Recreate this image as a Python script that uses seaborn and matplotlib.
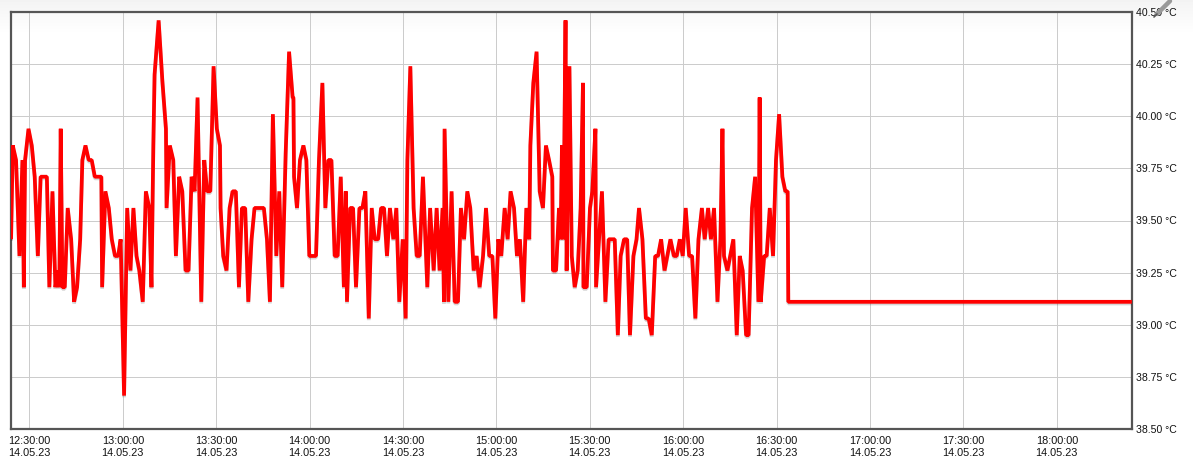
import numpy as np
import pandas as pd
import matplotlib
matplotlib.use("Agg")
import matplotlib.pyplot as plt
import matplotlib.dates as mdates
import matplotlib.patheffects as pe
import seaborn as sns

# Minutes after 12:30:00
minutes = [
    -5.9, -5.35, -4.3, -3.2, -2.25, -1.8, -1.4, -0.3, 0.75, 1.7, 2.7, 3.6, 5.6, 6.4, 7.4, 8.35,
    9.1, 9.6, 10.05, 10.6, 11.35, 12.3, 13.4, 14.35, 15.3, 16.3, 17, 18, 19.05, 20, 21, 23.1,
    23.35, 24.4, 25.5, 26.45, 27.5, 28.5, 29.3, 30.4, 31.4, 32.45, 33.4, 34.4, 35.3, 36.4, 37.4,
    38.5, 39.2, 39.8, 40.2, 41.5, 42.7, 43.85, 44.05, 45.1, 46.2, 47.05, 48.1, 49.1, 50.15, 51.1,
    52.1, 53.05, 54, 55.2, 56.15, 57.1, 58.1, 59.15, 60.2, 61.2, 61.4, 62.25, 63.3, 64.3, 65.25,
    66.3, 67.3, 68.25, 69.3, 70.3, 71.35, 72.3, 75.3, 76.3, 77.25, 78.2, 79.3, 80.25, 81.2, 82.3,
    83.4, 84.55, 84.8, 85, 85.95, 86.9, 88, 88.95, 89.9, 92.05, 93, 94.1, 95.05, 96, 97, 98.05,
    99, 100, 101, 101.6, 102, 103, 103.95, 104.9, 106, 106.95, 107.9, 109, 109.95, 110.9, 112,
    112.95, 113.9, 114.85, 115.8, 116.9, 117.85, 118.8, 119.9, 120.85, 121.4, 122.35, 123.4,
    124.4, 125.35, 126.4, 127.4, 127.8, 128.7, 129.85, 130.8, 131.75, 132.7, 133.15, 133.35,
    134.55, 135.6, 136.6, 137.65, 138.6, 139.6, 140.65, 141.6, 142.7, 143.65, 144.6, 145.7,
    146.65, 147.7, 148.7, 149.65, 150.6, 151.55, 152.65, 153.6, 154.55, 155.65, 156.6, 157.55,
    158.6, 159.6, 160.55, 160.9, 161.85, 162.9, 163.9, 164.95, 165.9, 166.9, 167.95, 168.15,
    169.15, 170.1, 170.6, 171.05, 171.5, 172.2, 172.55, 173.45, 174.2, 175.15, 176.1, 177.05,
    177.8, 177.95, 179, 180.05, 180.8, 181.8, 182, 183.9, 185, 186.05, 188, 189, 189.9, 191, 192,
    192.9, 194, 195, 195.8, 196.9, 198, 198.9, 199.9, 201, 201.9, 202.9, 204, 204.9, 205.9, 207,
    207.9, 208.9, 209.85, 210.8, 211.9, 212.85, 213.9, 214.9, 216, 216.9, 218, 218.9, 219.9, 221,
    221.95, 222.6, 223.1, 224.2, 226.1, 227.2, 228.15, 229.1, 230.2, 231, 232.1, 233.1, 234.15,
    234.55, 234.9, 236, 236.8, 237.8, 238.85, 239.8, 240.8, 241.85, 242.8, 243.55, 243.75, 354.1,
]

temps = [
    39.41, 39.86, 39.79, 39.33, 39.79, 39.18, 39.79, 39.94, 39.86, 39.71, 39.33, 39.71, 39.71, 39.18, 39.64, 39.18,
    39.26, 39.18, 39.94, 39.18, 39.18, 39.56, 39.41, 39.11, 39.18, 39.41, 39.79, 39.86, 39.79, 39.79, 39.71, 39.71,
    39.18, 39.64, 39.56, 39.41, 39.33, 39.33, 39.41, 38.66, 39.56, 39.26, 39.56, 39.33, 39.26, 39.11, 39.64,
    39.56, 39.18, 39.86, 40.2, 40.46, 40.17, 39.94, 39.56, 39.86, 39.79, 39.33, 39.71, 39.64, 39.26, 39.26,
    39.71, 39.64, 40.09, 39.11, 39.79, 39.64, 39.64, 40.24, 39.94, 39.86, 39.56, 39.33, 39.26, 39.56, 39.64,
    39.64, 39.18, 39.56, 39.56, 39.11, 39.41, 39.56, 39.56, 39.41, 39.11, 40.01, 39.33, 39.64, 39.18, 39.82,
    40.31, 40.09, 40.09, 39.71, 39.56, 39.79, 39.86, 39.79, 39.33, 39.33, 39.79, 40.16, 39.56, 39.79, 39.79, 39.33,
    39.33, 39.71, 39.18, 39.64, 39.11, 39.56, 39.56, 39.18, 39.56, 39.56, 39.64, 39.03, 39.56, 39.41, 39.41,
    39.56, 39.56, 39.33, 39.56, 39.41, 39.56, 39.11, 39.41, 39.03, 39.79, 40.24, 39.56,
    39.33, 39.33, 39.71, 39.33, 39.18, 39.56, 39.26, 39.56, 39.26, 39.56, 39.11, 39.94,
    39.11, 39.64, 39.11, 39.11, 39.56, 39.41, 39.64, 39.56, 39.26, 39.33, 39.18, 39.33,
    39.56, 39.33, 39.33, 39.03, 39.41, 39.33, 39.56, 39.41, 39.64, 39.56, 39.33, 39.41,
    39.11, 39.56, 39.41, 39.86, 40.16, 40.31, 39.64, 39.56, 39.86, 39.79, 39.71, 39.26,
    39.26, 39.56, 39.41, 39.86, 39.41, 40.46, 39.26, 40.24, 39.33, 39.18, 39.26, 39.56,
    40.16, 39.18, 39.18, 39.56, 39.64, 39.94, 39.18, 39.64, 39.11, 39.41, 39.41, 38.95, 39.33, 39.41, 39.41,
    38.95, 39.33, 39.41, 39.56, 39.41, 39.03, 39.03, 38.95, 39.33, 39.33, 39.41, 39.26, 39.33, 39.41, 39.33,
    39.33, 39.41, 39.33, 39.56, 39.33, 39.33, 39.03, 39.41, 39.56, 39.41, 39.56, 39.41, 39.56, 39.11,
    39.41, 39.94, 39.33, 39.26, 39.41, 38.95, 39.33, 39.26, 38.95, 38.95, 39.56, 39.71, 39.11,
    40.09, 39.11, 39.33, 39.33, 39.56, 39.33, 39.79, 40.01, 39.71, 39.64, 39.64, 39.11, 39.11,
]

y_ticks = [38.5, 38.75, 39.0, 39.25, 39.5, 39.75, 40.0, 40.25, 40.5]

start = pd.Timestamp("2023-05-14 12:30:00")
df = pd.DataFrame({"time": start + pd.to_timedelta(minutes, unit="min"), "temp": temps})

sns.set_theme(style="white")
plt.rcParams["font.family"] = ["Liberation Sans", "DejaVu Sans"]

W, H = 1193, 462
fig = plt.figure(figsize=(W / 100, H / 100), dpi=100, facecolor="white")

# faint grey fade along the top of the widget
bg = fig.add_axes([0, 0, 1, 1], zorder=0)
shade = np.ones((H, 2))
shade[:36, :] = np.linspace(0.955, 1.0, 36)[:, None]
bg.imshow(shade, cmap="gray", vmin=0, vmax=1, aspect="auto", extent=(0, W, H, 0))
bg.set_axis_off()

ax = fig.add_axes([11 / W, (H - 429) / H, 1121 / W, 417 / H], zorder=1)
ax.patch.set_alpha(0)

sns.lineplot(data=df, x="time", y="temp", estimator=None, sort=False, color="#ff0000", ax=ax,
             linewidth=2.7, solid_joinstyle="bevel", solid_capstyle="butt", zorder=3,
             path_effects=[pe.SimpleLineShadow(offset=(0, -1.2), shadow_color="#000000", alpha=0.16), pe.Normal()])

ax.set_xlim(start - pd.Timedelta(minutes=5.92), start + pd.Timedelta(minutes=354.15))
ax.set_ylim(38.5, 40.5)
ax.set_xlabel("")
ax.set_ylabel("")

ax.xaxis.set_major_locator(mdates.MinuteLocator(byminute=[0, 30]))
ax.xaxis.set_major_formatter(mdates.DateFormatter("%H:%M:%S\n%d.%m.%y"))
ax.yaxis.tick_right()
ax.set_yticks(y_ticks)
ax.set_yticklabels([f"{v:.2f} °C" for v in y_ticks])
ax.tick_params(axis="x", length=0, pad=5, labelsize=7.8, labelcolor="#111111")
ax.tick_params(axis="y", length=0, pad=3, labelsize=7.6, labelcolor="#111111")
for label in ax.get_xticklabels():
    label.set_linespacing(1.3)

ax.grid(True, color="#cccccc", linewidth=0.72)
ax.set_axisbelow(True)
for side in ax.spines:
    ax.spines[side].set_visible(True)
    ax.spines[side].set_color("#555555")
    ax.spines[side].set_linewidth(1.6)

# small pencil icon cut off at the top right corner
fig.add_artist(plt.Line2D([1157 / W, 1170 / W], [(H - 14) / H, (H - 1) / H], color="#9a9a9a", linewidth=3.2))
fig.add_artist(plt.Line2D([1154 / W, 1157 / W], [(H - 17) / H, (H - 14) / H], color="#555555", linewidth=1.2))

fig.savefig("out.png", dpi=100)
